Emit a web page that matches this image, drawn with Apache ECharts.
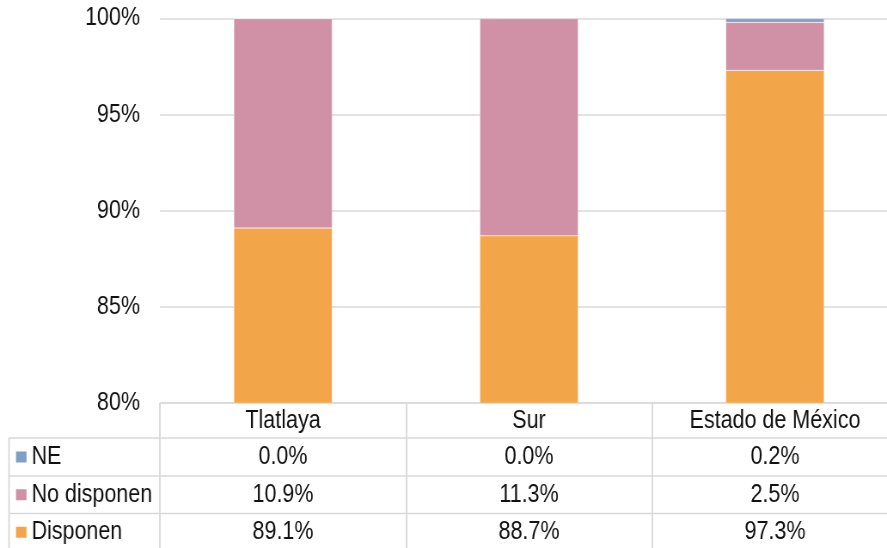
<!DOCTYPE html>
<html>
<head>
<meta charset="utf-8">
<script src="https://cdn.jsdelivr.net/npm/echarts@6/dist/echarts.min.js"></script>
<style>
  html, body { margin: 0; padding: 0; background: #fff; overflow: hidden; }
  #wrap { width: 887px; height: 548px; overflow: hidden; }
  /* The chart is laid out wider, then squeezed horizontally to get condensed lettering */
  #chart { width: 1032px; height: 548px; transform: scaleX(0.8595); transform-origin: 0 0; }
</style>
</head>
<body>
<div id="wrap"><div id="chart"></div></div>
<script>
// Share of households (%) by availability, per region
const categories = ['Tlatlaya', 'Sur', 'Estado de México'];
const seriesNames = ['Disponen', 'No disponen', 'NE'];
const disponen = [89.1, 88.7, 97.3];
const noDisponen = [10.9, 11.3, 2.5];
const ne = [0.0, 0.04, 0.2];
const yTicks = { min: 80, max: 100, step: 5 };

const colors = { 'Disponen': '#F3A54A', 'No disponen': '#D091A6', 'NE': '#7F9FC6' };
const lineColor = '#D9D9D9';
const textColor = '#111';
const font = '"Liberation Sans", Arial, sans-serif';
const fontSize = 25;

const valuesByName = { 'Disponen': disponen, 'No disponen': noDisponen, 'NE': ne };
// Table rows, top to bottom
const tableRows = ['NE', 'No disponen', 'Disponen'];

// Horizontal squeeze applied by CSS; x positions below are given in on-screen pixels
const sx = 0.8595;
const X = v => v / sx;

// Layout of the plot and the data table under it
const gridLeft = X(160), gridTop = 18.5, gridWidth = X(738), gridBottom = 145;
const axisY = 548 - gridBottom;            // pixel row of the category axis
const rowEdges = [axisY, 438, 476, 513.5, 551]; // header row + three value rows
const tableLeft = X(9);

const chart = echarts.init(document.getElementById('chart'), null, { renderer: 'canvas' });

const fmt = v => v.toFixed(1) + '%';
const baseLabel = { color: textColor, fontFamily: font, fontSize: fontSize, verticalAlign: 'middle' };

// Main plot grid, then one thin grid per table row whose axis labels hold the row's values
const grids = [{ left: gridLeft, top: gridTop, width: gridWidth, bottom: gridBottom,
                 containLabel: false, outerBoundsMode: 'none' }];
const xAxes = [{
  type: 'category',
  data: categories,
  gridIndex: 0,
  position: 'bottom',
  axisLine: { show: true, lineStyle: { color: lineColor, width: 1.5 } },
  axisTick: { show: true, interval: 0, alignWithLabel: false,
              length: 548 - axisY, lineStyle: { color: lineColor, width: 1.8 } },
  axisLabel: Object.assign({}, baseLabel, { interval: 0, margin: (rowEdges[1] - rowEdges[0]) / 2 + 1 })
}];
const yAxes = [{
  type: 'value',
  gridIndex: 0,
  min: yTicks.min,
  max: yTicks.max,
  interval: yTicks.step,
  axisLine: { show: false },
  axisTick: { show: false },
  splitLine: { lineStyle: { color: lineColor, width: 1.5 } },
  axisLabel: { color: textColor, fontFamily: font, fontSize: fontSize, margin: X(20),
               formatter: '{value}%' }
}];

tableRows.forEach((name, i) => {
  const top = rowEdges[i + 1];
  const h = rowEdges[i + 2] - top;
  grids.push({ left: gridLeft, top: top, width: gridWidth, height: h,
               containLabel: false, outerBoundsMode: 'none' });
  xAxes.push({
    type: 'category',
    data: categories,
    gridIndex: i + 1,
    position: 'top',
    axisLine: { show: false },
    axisTick: { show: false },
    splitLine: { show: false },
    axisLabel: Object.assign({}, baseLabel, {
      interval: 0,
      margin: -h / 2,
      formatter: (val, idx) => fmt(valuesByName[name][idx])
    })
  });
  yAxes.push({ type: 'value', gridIndex: i + 1, show: false });
});

const option = {
  animation: false,
  backgroundColor: '#fff',
  grid: grids,
  xAxis: xAxes,
  yAxis: yAxes,
  series: seriesNames.map(name => ({
    name: name,
    type: 'bar',
    stack: 'total',
    barWidth: '40%',
    xAxisIndex: 0,
    yAxisIndex: 0,
    data: valuesByName[name],
    itemStyle: { color: colors[name], borderColor: 'rgba(255,255,255,0.6)', borderWidth: 0.5 }
  }))
};

chart.setOption(option);

// Table rules and the row headers with their colour keys
const graphics = [];
for (let i = 1; i < rowEdges.length - 1; i++) {
  graphics.push({
    type: 'line', silent: true,
    shape: { x1: tableLeft, y1: rowEdges[i], x2: gridLeft + gridWidth, y2: rowEdges[i] },
    style: { stroke: lineColor, lineWidth: 1.5 }
  });
}
graphics.push({
  type: 'line', silent: true,
  shape: { x1: tableLeft, y1: rowEdges[1], x2: tableLeft, y2: 548 },
  style: { stroke: lineColor, lineWidth: 1.8 }
});
tableRows.forEach((name, i) => {
  const cy = (rowEdges[i + 1] + rowEdges[i + 2]) / 2;
  graphics.push({
    type: 'rect', silent: true,
    shape: { x: X(16), y: cy - 5.5, width: X(10.5), height: 11 },
    style: { fill: colors[name] }
  });
  graphics.push({
    type: 'text', silent: true,
    x: X(31.5), y: cy,
    style: { text: name, fill: textColor, font: fontSize + 'px ' + font,
             verticalAlign: 'middle' }
  });
});
chart.setOption({ graphic: graphics });
</script>
</body>
</html>
